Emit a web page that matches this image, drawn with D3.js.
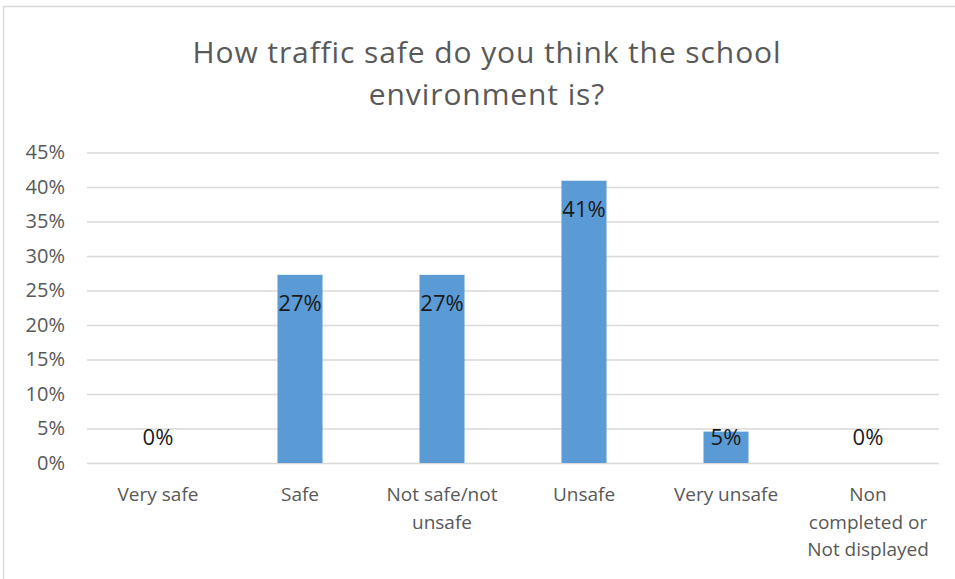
<!DOCTYPE html>
<html>
<head>
<meta charset="utf-8">
<script src="https://cdn.jsdelivr.net/npm/d3@7"></script>
<style>
  html, body { margin: 0; padding: 0; background: #fff; }
  svg { display: block; }
</style>
</head>
<body>
<svg id="chart" width="955" height="579"></svg>
<script>
// Survey answers: share of respondents per category
const categories = [
  ["Very safe"],
  ["Safe"],
  ["Not safe/not", "unsafe"],
  ["Unsafe"],
  ["Very unsafe"],
  ["Non", "completed or", "Not displayed"]
];
const values = [0, 0.2727, 0.2727, 0.4091, 0.0455, 0];
const yTicks = [0, 0.05, 0.10, 0.15, 0.20, 0.25, 0.30, 0.35, 0.40, 0.45];
const titleLines = ["How traffic safe do you think the school", "environment is?"];

const font = "'Open Sans', Lato, sans-serif";
const svg = d3.select("#chart");
const W = 955, H = 579;

// outer chart frame
svg.append("rect")
  .attr("x", 3.5).attr("y", 6.5)
  .attr("width", W + 10).attr("height", H + 10)
  .attr("fill", "#fff").attr("stroke", "#d9d9d9").attr("stroke-width", 1.5);

const plot = { left: 87, right: 939, top: 152.5, bottom: 463 };

const x = d3.scaleBand()
  .domain(d3.range(categories.length))
  .range([plot.left, plot.right])
  .paddingInner(0.683).paddingOuter(0.3415);

const y = d3.scaleLinear().domain([0, 0.45]).range([plot.bottom, plot.top]);

// title
svg.append("text")
  .attr("x", 487).attr("y", 63)
  .attr("text-anchor", "middle")
  .attr("font-family", font).attr("font-size", 30)
  .attr("letter-spacing", 0.9)
  .attr("fill", "#595959")
  .selectAll("tspan").data(titleLines).join("tspan")
  .attr("x", 487).attr("dy", (d, i) => i === 0 ? 0 : 42)
  .text(d => d);

// gridlines + y axis labels
const yAxis = d3.axisLeft(y)
  .tickValues(yTicks)
  .tickFormat(d3.format(".0%"))
  .tickSize(-(plot.right - plot.left))
  .tickPadding(22);

const gy = svg.append("g")
  .attr("transform", `translate(${plot.left},0)`)
  .call(yAxis);
gy.select(".domain").remove();
gy.selectAll(".tick line").attr("stroke", "#d9d9d9").attr("stroke-width", 1.3);
gy.selectAll(".tick text")
  .attr("font-family", font).attr("font-size", 20)
  .attr("fill", "#595959");

// bars
svg.append("g").selectAll("rect").data(values).join("rect")
  .attr("x", (d, i) => x(i))
  .attr("y", d => y(d))
  .attr("width", x.bandwidth())
  .attr("height", d => y(0) - y(d))
  .attr("fill", "#5b9bd5");

// value labels, inside the bar end, kept clear of the baseline
const fmt = d3.format(".0%");
svg.append("g").selectAll("text").data(values).join("text")
  .attr("x", (d, i) => x(i) + x.bandwidth() / 2)
  .attr("y", d => Math.min(y(d) + 28, y(0) - 26) + 8)
  .attr("text-anchor", "middle")
  .attr("font-family", font).attr("font-size", 22)
  .attr("fill", "#1a1a1a")
  .text(d => fmt(d));

// category labels
const gx = svg.append("g");
categories.forEach((lines, i) => {
  gx.append("text")
    .attr("x", x(i) + x.bandwidth() / 2)
    .attr("y", 501)
    .attr("text-anchor", "middle")
    .attr("font-family", font).attr("font-size", 19)
    .attr("fill", "#595959")
    .selectAll("tspan").data(lines).join("tspan")
    .attr("x", x(i) + x.bandwidth() / 2)
    .attr("dy", (d, j) => j === 0 ? 0 : 27.5)
    .text(d => d);
});
</script>
</body>
</html>
